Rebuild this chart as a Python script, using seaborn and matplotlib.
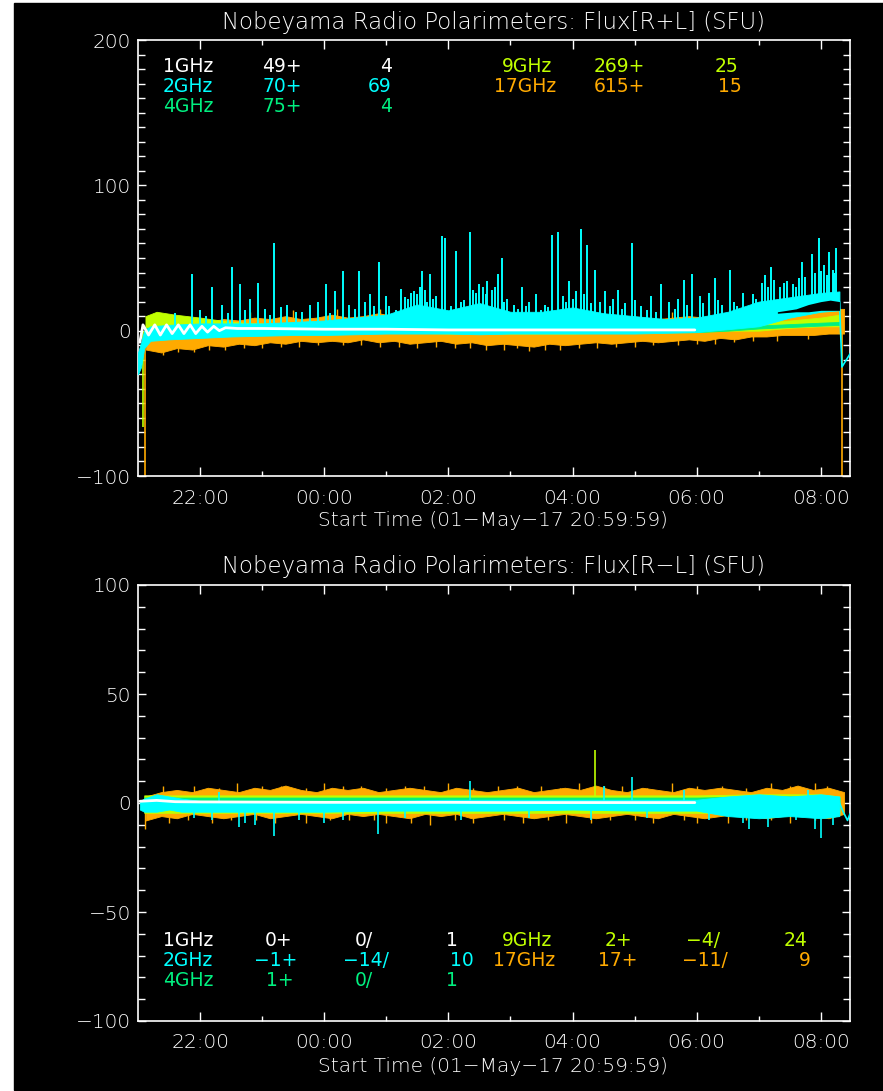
import numpy as np
import matplotlib
matplotlib.use("Agg")
import matplotlib.pyplot as plt
import seaborn as sns
from matplotlib.patches import Rectangle

sns.set_theme(style="dark")
plt.rcParams['font.family'] = ['DejaVu Sans']
FONT_W = 'light'

# ---------------- data (hours after 21:00 UT) ----------------
TICK_POS = [1, 3, 5, 7, 9, 11]
TICK_LABELS = ['22:00', '00:00', '02:00', '04:00', '06:00', '08:00']
MINOR_POS = [2, 4, 6, 8, 10]

C1, C2, C4, C9, C17 = '#ffffff', '#00ffff', '#00f080', '#c0ff00', '#ffaa00'

# 17 GHz envelope on a quarter-hour grid
TQ = 0.125 + 0.25 * np.arange(46)
top17_hi = [4, 6, 5, 7, 6, 8, 7, 9, 8, 10, 8, 9, 11, 9, 10, 12, 10, 11, 9, 11,
            10, 9, 10, 8, 9, 8, 10, 8, 9, 7, 8, 7, 9, 8, 9, 10, 9, 11, 10, 12,
            11, 12, 13, 14, 15, 15]
top17_lo = [-13, -15, -12, -13, -10, -11, -9, -10, -8, -9, -7, -8, -7, -8, -6, -8, -7, -9, -8, -7,
            -9, -8, -10, -9, -10, -11, -9, -10, -9, -8, -9, -8, -7, -8, -7, -6, -7, -5, -6, -4,
            -4, -3, -3, -3, -2, -2]
top17_whisk_t = [0.4, 0.9, 1.4, 2.0, 2.6, 3.3, 3.9, 4.5, 5.1, 5.6, 6.3, 6.8, 7.4, 8.0, 8.7, 9.3, 9.9,
                 0.65, 1.15, 1.7, 2.3, 2.9, 3.6, 4.2, 4.8, 5.35, 5.9, 6.1, 6.55, 7.1, 7.7, 8.3, 9.0,
                 9.6, 10.3, 10.8,
                 1.8, 2.5, 3.2, 3.9, 4.3, 8.6, 9.2, 9.7]
top17_whisk_v = [-17, -15, -13, -12, -11, -10, -11, -12, -12, -13, -14, -13, -12, -11, -10, -9, -7,
                 -15, -13, -12, -11, -10, -10, -11, -11, -12, -13, -12, -13, -12, -11, -10, -9,
                 -8, -7, -6,
                 13, 14, 15, 15, 14, 13, 14, 15]
top17_drop_t = [0.12, 11.34]

top9_t = [0.12, 0.3, 0.6, 1.0, 1.5, 2.0, 3.0, 4.0, 5.0, 6.0, 7.0, 8.0, 9.0, 9.5, 10.0, 10.5, 11.0, 11.3]
top9_lo = [-3, 0, 0, 0, 0, -1, -1, -1, -2, -2, -2, -1, -1, 0, 0, 2, 3, 3]
top9_hi = [10, 13, 11, 9, 6, 5, 4, 4, 3, 3, 3, 4, 4, 5, 6, 7, 9, 11]
top9_drop = (0.08, -66)

top4_t = [0.12, 1.0, 3.0, 5.0, 7.0, 9.0, 9.5, 10.0, 10.5, 11.0, 11.3]
top4_lo = [-2, -1, -1, -1, -1, -1, 0, 1.5, 2.5, 3.5, 4]
top4_hi = [2, 2, 2, 2, 2, 2, 3, 3.5, 4.5, 5.5, 6]

top2_t = [0.0, 0.05, 0.1, 0.2, 0.5, 1.0, 1.5, 2.0, 2.5, 3.0, 3.5, 4.0, 4.5, 5.0, 5.5, 6.0,
          6.5, 7.0, 7.5, 8.0, 8.5, 9.0, 9.5, 10.0, 10.5, 11.0, 11.3]
top2_lo = [-30, -25, -12, -7, -6, -5, -4, -3.5, -3, -3, -2.5, -2, -2, -2, -2.5, -2,
           -2, -2, -2, -2, -1.5, -1, 1, 3, 9, 13, 14]
top2_hi = [-15, -8, 0, 3, 4, 5, 5, 5, 6, 7, 9, 11, 18, 14, 19, 13,
           13, 16, 12, 10, 8, 9, 13, 20, 23, 26, 27]
top2_tail_t = [11.3, 11.34, 11.47]
top2_tail_v = [20, -25, -16]
spike_t = [0.87, 1.2, 1.51, 1.65, 1.94, 2.19, 2.77, 3.03, 3.17, 3.30, 3.56, 3.73, 3.88, 3.99,
           4.24, 4.44, 4.57, 4.70, 4.90, 4.94, 5.13, 5.35, 5.63, 5.80, 5.86, 6.19, 6.41, 6.67,
           6.77, 6.95, 7.13, 7.24, 7.36, 7.53, 7.73, 7.96, 8.27, 8.43, 8.80, 8.93, 9.30, 9.54,
           9.75, 10.2, 10.4, 10.7, 10.85, 10.97, 11.13, 11.25,
           0.6, 1.0, 1.35, 1.8, 2.05, 2.4, 2.55, 2.9, 3.4, 3.65, 4.05, 4.35, 4.5, 4.65, 4.8,
           5.2, 5.45, 5.55, 5.7, 5.95, 6.05, 6.3, 6.55, 6.85, 7.05, 7.45, 7.65, 7.85, 8.1,
           8.55, 8.7, 9.05, 9.2, 9.4, 9.6, 9.9, 10.05, 10.1, 10.25, 10.35, 10.55, 10.65,
           10.9, 11.05, 11.2,
           1.1, 1.45, 1.72, 2.12, 2.3, 2.65, 3.1, 3.5, 3.8, 4.15, 4.3, 4.4, 4.55, 4.62,
           4.75, 5.05, 5.25, 5.4, 5.5, 5.6, 5.75, 5.9, 6.12, 6.25, 6.5, 6.6, 6.9, 7.0,
           7.18, 7.3, 7.6, 7.8, 8.0, 8.2, 8.35, 8.65, 8.85, 9.1, 9.35, 9.65, 9.8, 9.95,
           10.15, 10.45, 10.6, 10.75, 11.0, 11.1, 11.22]
spike_v = [39, 30, 44, 32, 33, 60, 18, 32, 27, 41, 41, 25, 47, 24,
           29, 27, 41, 39, 65, 64, 55, 68, 34, 39, 50, 30, 25, 66,
           68, 34, 70, 59, 42, 27, 28, 60, 24, 32, 35, 39, 36, 42,
           26, 44, 33, 47, 53, 64, 54, 57,
           12, 14, 18, 22, 15, 18, 13, 20, 18, 20, 17, 22, 25, 20, 24,
           20, 26, 30, 28, 22, 18, 20, 18, 24, 27, 20, 22, 19, 17,
           20, 22, 24, 26, 18, 20, 25, 33, 38, 35, 30, 32, 36,
           40, 45, 42,
           10, 12, 14, 11, 16, 13, 12, 15, 17, 14, 23, 26, 30, 28,
           22, 17, 21, 28, 32, 25, 30, 20, 15, 17, 14, 16, 20, 22,
           25, 19, 17, 15, 21, 14, 13, 15, 18, 19, 21, 17, 16, 22,
           30, 34, 30, 37, 41, 38, 40]

top1_t = [0.03, 0.08, 0.17, 0.27, 0.36, 0.46, 0.55, 0.65, 0.74, 0.84, 0.93, 1.03, 1.12,
          1.22, 1.31, 1.41, 1.6, 2, 3, 4, 5, 6, 7, 8, 8.97]
top1_v = [-8, 4, -3, 4, -3, 4, -2, 4, -2, 4, -2, 3, -1, 3, 0, 2, 1.5, 1.5, 1, 1, 0.5, 0.5,
          0.5, 0.5, 0.5]
topblk_t = [10.3, 10.6, 10.8, 11.0, 11.15, 11.3]
topblk_lo = [12, 13, 13, 14, 14, 14]
topblk_hi = [13, 15, 18, 20, 21, 20]

# R-L panel
bot17_hi = [3, 5, 6, 5, 7, 6, 5, 7, 6, 8, 6, 5, 7, 6, 7, 5, 6, 7, 6, 5,
            7, 6, 5, 6, 7, 5, 6, 7, 6, 8, 6, 5, 7, 6, 5, 7, 6, 7, 6, 5,
            7, 6, 8, 6, 7, 5]
bot17_lo = [-8, -6, -7, -5, -6, -7, -6, -5, -7, -6, -5, -6, -7, -5, -6, -5, -6, -7, -5, -6,
            -5, -7, -6, -5, -6, -7, -6, -5, -6, -7, -6, -5, -6, -7, -5, -6, -7, -6, -5, -6,
            -7, -6, -5, -6, -7, -5]
bot17_whisk_t = [0.9, 1.6, 2.3, 3.0, 3.6, 4.3, 5.0, 5.8, 6.5, 7.1, 7.8, 8.6, 9.4, 10.2, 10.9,
                 0.4, 1.3, 2.0, 2.7, 3.3, 4.0, 4.6, 5.4, 6.1, 6.8, 7.5, 8.2, 9.0, 9.8, 10.5, 11.1,
                 0.12, 0.5, 1.2, 1.9, 2.7, 3.4, 4.0, 4.7, 5.4, 6.2, 6.9, 7.6, 8.3, 9.0, 9.8, 10.5,
                 0.8, 1.5, 2.2, 3.1, 3.8, 4.4, 5.1, 5.9, 6.6, 7.3, 8.0, 8.8, 9.5, 10.2, 10.9]
bot17_whisk_v = [8, 9, 8, 9, 8, 8, 9, 8, 8, 9, 8, 9, 8, 9, 9,
                 8, 7, 8, 7, 8, 7, 8, 7, 8, 7, 8, 7, 8, 7, 8, 8,
                 -12, -9, -9, -8, -9, -8, -9, -10, -9, -9, -9, -8, -9, -9, -8, -9,
                 -8, -8, -9, -8, -8, -9, -8, -8, -8, -9, -8, -8, -9, -8, -8]

bot9_t = [0.1, 2, 4, 6, 8, 9, 10, 11, 11.3]
bot9_lo = [-4.5, -4.5, -4.5, -4.5, -4.5, -4.5, -5, -5, -4]
bot9_hi = [3.5, 3.5, 3.5, 3.5, 3.5, 3.5, 4, 4, 3]
bot9_spike = (7.36, 24.5)
bot4_t = [0.1, 2, 4, 6, 8, 9, 10, 11, 11.3]
bot4_lo = [0, 0, 0, 0, 0, 0, -1, -1, -1]
bot4_hi = [2.5, 2.5, 2.5, 2.5, 2.5, 2.5, 3, 3, 2.5]

bot2_t = [0.03, 0.1, 0.3, 0.5, 0.7, 1.0, 2.0, 3.0, 4.0, 5.0, 6.0, 7.0, 8.0, 9.0, 9.5, 10.0,
          10.5, 11.0, 11.3]
bot2_lo = [-3, -4, -4, -3, -4, -4, -4, -4, -3.5, -3.5, -3.5, -3, -3.5, -3.5, -6, -7,
           -6, -7, -6]
bot2_hi = [1, 2, 4, 3, 2, 1, 1, 1, 1, 1.5, 1.5, 1.5, 1.5, 1.5, 3, 4, 3, 4, 3]
bot2_spk_t = [0.9, 1.2, 1.63, 1.72, 1.88, 2.19, 2.6, 3.0, 3.3, 3.87, 4.3, 5.2, 6.3, 7.3, 8.2,
              9.2, 9.75, 9.85, 10.15, 10.6, 10.9, 11.0, 11.2,
              1.3, 5.35, 7.5, 7.96, 8.8, 10.8]
bot2_spk_v = [-7, -8, -11, -9, -10, -15, -8, -9, -8, -14, -7, -8, -7, -8, -7,
              -8, -9, -12, -11, -8, -12, -16, -10,
              5, 10, 8, 12, 6, 6]
bot2_tail_t = [11.3, 11.36, 11.43, 11.47]
bot2_tail_v = [0, -4, -8, -5]
bot1_t = [0.03, 0.3, 0.6, 1, 2, 3, 4, 5, 6, 7, 8, 8.97]
bot1_v = [0.8, 1.2, 0.6, 0.5, 0.4, 0.3, 0.3, 0.3, 0.2, 0.2, 0.2, 0.2]

# legend text
top_leg = [
    ('1GHz', '49+', '4', C1, 0), ('2GHz', '70+', '69', C2, 1), ('4GHz', '75+', '4', C4, 2),
    ('9GHz', '269+', '25', C9, 0), ('17GHz', '615+', '15', C17, 1)]
bot_leg = [
    ('1GHz', '0+', '0/', '1', C1, 0), ('2GHz', '\u22121+', '\u221214/', '10', C2, 1),
    ('4GHz', '1+', '0/', '1', C4, 2),
    ('9GHz', '2+', '\u22124/', '24', C9, 0), ('17GHz', '17+', '\u221211/', '9', C17, 1)]

# ---------------- figure ----------------
W, H = 883, 1091
fig = plt.figure(figsize=(W / 100, H / 100), dpi=100, facecolor='white')
fig.patches.append(Rectangle((14 / W, 1 / H), 1 - 14 / W, 1 - 4 / H,
                             transform=fig.transFigure, color='black', zorder=-10))


def fx(px):
    return px / W


def fy(py):
    return 1 - py / H


ax1 = fig.add_axes([fx(138), fy(476), fx(850) - fx(138), (476 - 40) / H])
ax2 = fig.add_axes([fx(138), fy(1021), fx(850) - fx(138), (1021 - 585) / H])

FS = 14.5
for ax, ylim, major, minor in [(ax1, (-100, 200), [-100, 0, 100, 200], np.arange(-100, 201, 10)),
                               (ax2, (-100, 100), [-100, -50, 0, 50, 100], np.arange(-100, 101, 10))]:
    ax.set_facecolor('black')
    ax.grid(False)
    ax.set_xlim(0, 11.47)
    ax.set_ylim(*ylim)
    ax.set_xticks(TICK_POS)
    ax.set_xticklabels(TICK_LABELS)
    ax.set_xticks(MINOR_POS, minor=True)
    ax.set_yticks(major)
    ax.set_yticklabels([str(v).replace('-', '\u2212') for v in major])
    ax.set_yticks([v for v in minor if v not in major], minor=True)
    for sp in ax.spines.values():
        sp.set_color('white')
        sp.set_linewidth(1.2)
        sp.set_visible(True)
    ax.tick_params(axis='both', which='both', direction='in', colors='white',
                   top=True, right=True, bottom=True, left=True, width=1.0)
    ax.tick_params(axis='x', which='major', length=6.5, pad=9, labelsize=FS)
    ax.tick_params(axis='x', which='minor', length=3.5)
    ax.tick_params(axis='y', which='major', length=6, pad=5, labelsize=FS)
    ax.tick_params(axis='y', which='minor', length=5)
    for lab in ax.get_xticklabels() + ax.get_yticklabels():
        lab.set_fontweight(FONT_W)
        lab.set_color('white')

# ---- top panel: R+L ----
ax = ax1
ax.fill_between(TQ, top17_lo, top17_hi, color=C17, lw=0.6, edgecolor=C17, zorder=2)
ax.vlines(top17_whisk_t, 0, top17_whisk_v, color=C17, lw=1.0, zorder=2)
ax.vlines(top17_drop_t, -100, 0, color=C17, lw=1.2, zorder=2)
ax.fill_between(top9_t, top9_lo, top9_hi, color=C9, lw=0.6, edgecolor=C9, zorder=3)
ax.vlines([top9_drop[0]], top9_drop[1], 0, color=C9, lw=1.2, zorder=3)
ax.fill_between(top4_t, top4_lo, top4_hi, color=C4, lw=0.6, edgecolor=C4, zorder=4)
ax.fill_between(top2_t, top2_lo, top2_hi, color=C2, lw=0.6, edgecolor=C2, zorder=5)
spike_base = np.interp(spike_t, top2_t, top2_hi) - 1
ax.vlines(spike_t, spike_base, spike_v, color=C2, lw=1.4, zorder=5)
sns.lineplot(x=top2_tail_t, y=top2_tail_v, color=C2, lw=1.2, ax=ax, estimator=None,
             sort=False, zorder=5)
sns.lineplot(x=top1_t, y=top1_v, color=C1, lw=2.0, ax=ax, estimator=None, sort=False, zorder=6)
ax.fill_between(topblk_t, topblk_lo, topblk_hi, color='black', lw=0, zorder=6)

# ---- bottom panel: R-L ----
ax = ax2
ax.fill_between(TQ, bot17_lo, bot17_hi, color=C17, lw=0.6, edgecolor=C17, zorder=2)
ax.vlines(bot17_whisk_t, 0, bot17_whisk_v, color=C17, lw=1.0, zorder=2)
ax.fill_between(bot9_t, bot9_lo, bot9_hi, color=C9, lw=0.6, edgecolor=C9, zorder=3)
ax.vlines([bot9_spike[0]], 0, bot9_spike[1], color=C9, lw=1.2, zorder=3)
ax.fill_between(bot4_t, bot4_lo, bot4_hi, color=C4, lw=0.6, edgecolor=C4, zorder=4)
ax.fill_between(bot2_t, bot2_lo, bot2_hi, color=C2, lw=0.6, edgecolor=C2, zorder=5)
bot_base = np.where(np.array(bot2_spk_v) < 0, np.interp(bot2_spk_t, bot2_t, bot2_lo) + 0.5,
                    np.interp(bot2_spk_t, bot2_t, bot2_hi) - 0.5)
ax.vlines(bot2_spk_t, bot_base, bot2_spk_v, color=C2, lw=1.2, zorder=5)
sns.lineplot(x=bot2_tail_t, y=bot2_tail_v, color=C2, lw=1.2, ax=ax, estimator=None,
             sort=False, zorder=5)
sns.lineplot(x=bot1_t, y=bot1_v, color=C1, lw=2.0, ax=ax, estimator=None, sort=False, zorder=6)

for ax in (ax1, ax2):
    if ax.get_legend():
        ax.get_legend().remove()
    ax.set_xlabel('')
    ax.set_ylabel('')

# ---- titles / labels ----
TFS = 16.5
fig.text(fx(493), fy(22), 'Nobeyama Radio Polarimeters: Flux[R+L] (SFU)', ha='center',
         va='center', color='white', fontsize=TFS, fontweight=FONT_W)
fig.text(fx(493), fy(567), 'Nobeyama Radio Polarimeters: Flux[R\u2212L] (SFU)', ha='center',
         va='center', color='white', fontsize=TFS, fontweight=FONT_W)
for yy in (520, 1066):
    fig.text(fx(493), fy(yy), 'Start Time (01\u2212May\u221217 20:59:59)', ha='center',
             va='center', color='white', fontsize=FS, fontweight=FONT_W)

LFS = 13.5
LW = 'normal'
rows_top = [67, 87, 106]
for name, a, b, col, r in top_leg:
    left = name in ('9GHz', '17GHz')
    xs = ([502 if name == '9GHz' else 494, 594, 715 if name == '9GHz' else 718] if left
          else [163, 262, 380 if b == '4' else 368])
    for s, x in zip((name, a, b), xs):
        fig.text(fx(x), fy(rows_top[r]), s, color=col, fontsize=LFS, va='center', ha='left',
                 fontweight=LW)

rows_bot = [940, 960, 980]
pos_bot = {
    '1GHz': [163, 265, 355, 446], '2GHz': [163, 254, 343, 450], '4GHz': [163, 266, 355, 446],
    '9GHz': [502, 605, 686, 784], '17GHz': [493, 598, 682, 799]}
for name, a, b, c, col, r in bot_leg:
    for s, x in zip((name, a, b, c), pos_bot[name]):
        fig.text(fx(x), fy(rows_bot[r]), s, color=col, fontsize=LFS, va='center', ha='left',
                 fontweight=LW)

fig.savefig('out.png', dpi=100, facecolor=fig.get_facecolor())
